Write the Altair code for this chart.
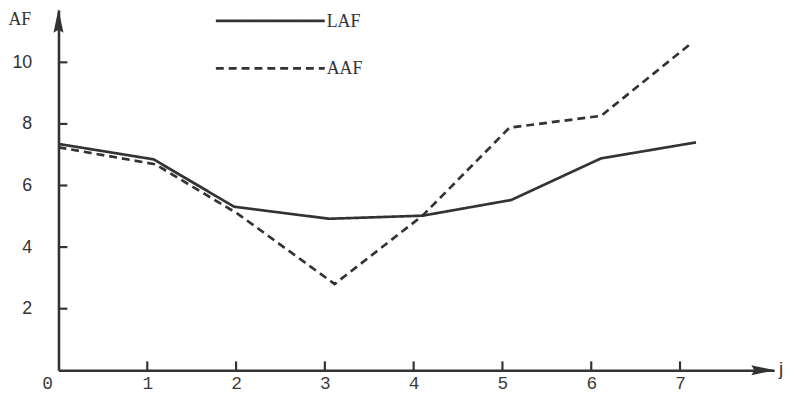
import altair as alt
import pandas as pd

# ---------------- data ----------------
SERIES = ["LAF", "AAF"]
LAF_J = [0, 1.07, 1.98, 3.05, 4.1, 5.1, 6.11, 7.18]
LAF_AF = [7.35, 6.85, 5.31, 4.92, 5.02, 5.53, 6.88, 7.40]
AAF_J = [0, 1.09, 2.02, 3.11, 4.1, 5.08, 6.11, 7.11]
AAF_AF = [7.24, 6.69, 5.08, 2.80, 5.02, 7.88, 8.26, 10.58]
X_TICKS = [0, 1, 2, 3, 4, 5, 6, 7]
X_INNER_TICKS = [1, 2, 3, 4, 5, 6, 7]
Y_TICKS = [2, 4, 6, 8, 10]
X_LABEL = "j"
Y_LABEL = "AF"

# ---------------- style ----------------
INK = "#333333"
TICK_INK = INK
W, H = 723, 364
X_MAX, Y_MAX = 8.06, 11.7
DASHES = [[1, 0], [8, 5]]
LEG_Y = [11, 59]
TICK_LEN = 9

df = pd.DataFrame({
    "j": LAF_J + AAF_J,
    "AF": LAF_AF + AAF_AF,
    "series": [SERIES[0]] * len(LAF_J) + [SERIES[1]] * len(AAF_J),
    "order": list(range(len(LAF_J))) + list(range(len(AAF_J))),
})

x_scale = alt.Scale(domain=[0, X_MAX], nice=False, zero=False)
y_scale = alt.Scale(domain=[0, Y_MAX], nice=False, zero=False)

x_axis = alt.Axis(
    orient="bottom", values=X_TICKS, format="d", ticks=False, grid=False, title=None,
    domain=True, domainColor=INK, domainWidth=2.6,
    labelFont="Liberation Mono", labelFontSize=18, labelColor="#3a3a3a",
    labelPadding=4,
    labelOffset={"condition": {"test": "datum.value === 0", "value": -17}, "value": 0},
)
y_axis = alt.Axis(
    orient="left", values=Y_TICKS, format="d", ticks=False, grid=False, title=None,
    domain=True, domainColor=INK, domainWidth=2.6,
    labelFont="Liberation Sans", labelFontSize=18, labelColor="#333333",
    labelPadding=27,
)

lines = alt.Chart(df).mark_line(color=INK, strokeWidth=2.7).encode(
    x=alt.X("j:Q", scale=x_scale, axis=x_axis),
    y=alt.Y("AF:Q", scale=y_scale, axis=y_axis),
    strokeDash=alt.StrokeDash("series:N", scale=alt.Scale(domain=SERIES, range=DASHES), legend=None),
    detail="series:N",
    order="order:Q",
)

# inward tick marks, placed through the scales
xt = pd.DataFrame({"j": X_INNER_TICKS})
x_ticks = alt.Chart(xt).mark_rule(color=TICK_INK, strokeWidth=2.2).encode(
    x=alt.X("j:Q", scale=x_scale, axis=None), y=alt.value(H), y2=alt.value(H - TICK_LEN))
yt = pd.DataFrame({"AF": Y_TICKS})
y_ticks = alt.Chart(yt).mark_rule(color=TICK_INK, strokeWidth=2.2).encode(
    y=alt.Y("AF:Q", scale=y_scale, axis=None), x=alt.value(0), x2=alt.value(TICK_LEN))

layers = [lines, x_ticks, y_ticks]

# legend drawn by hand, top centre
for i, name in enumerate(SERIES):
    d = pd.DataFrame({"series": [name]})
    layers.append(alt.Chart(d).mark_rule(color=INK, strokeWidth=2.7, strokeDash=DASHES[i]).encode(
        x=alt.value(159), x2=alt.value(269), y=alt.value(LEG_Y[i])))
    layers.append(alt.Chart(d).mark_text(align="left", baseline="middle", font="Liberation Serif",
                                         fontSize=18, color=INK).encode(
        x=alt.value(271), y=alt.value(LEG_Y[i] + 1), text="series:N"))

# axis names
lab = pd.DataFrame({"t": [Y_LABEL]})
layers.append(alt.Chart(lab).mark_text(align="center", baseline="middle", font="Liberation Serif",
                                       fontSize=18, color=INK).encode(
    x=alt.value(-39), y=alt.value(10), text="t:N"))
labx = pd.DataFrame({"t": [X_LABEL]})
layers.append(alt.Chart(labx).mark_text(align="left", baseline="alphabetic", font="Liberation Sans",
                                        fontSize=19, color=INK).encode(
    x=alt.value(728), y=alt.value(369), text="t:N"))

# arrow heads
arr = pd.DataFrame({"a": ["x"]})
layers.append(alt.Chart(arr).mark_point(filled=True, opacity=1, color=INK, size=576,
                                        shape="M1,0L-1,-0.42L-0.75,0L-1,0.42Z").encode(
    x=alt.value(712), y=alt.value(H)))
layers.append(alt.Chart(arr).mark_point(filled=True, opacity=1, color=INK, size=576,
                                        shape="M0,-1L-0.42,1L0,0.75L0.42,1Z").encode(
    x=alt.value(0), y=alt.value(11)))

chart = alt.layer(*layers).resolve_axis(x="independent", y="independent").properties(
    width=W, height=H,
    autosize=alt.AutoSizeParams(type="none"),
    padding={"left": 51, "top": 0, "right": 13, "bottom": 24},
    background="white",
).configure_view(stroke=None)

chart.save("out.html", embed_options={"renderer": "svg", "actions": False})
